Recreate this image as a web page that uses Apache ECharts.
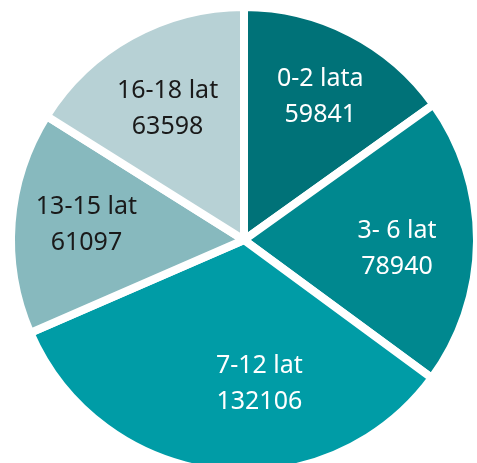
<!DOCTYPE html>
<html>
<head>
<meta charset="utf-8">
<script src="https://cdn.jsdelivr.net/npm/echarts@6/dist/echarts.min.js"></script>
<style>
  html, body { margin: 0; padding: 0; background: #fff; }
  #PieChart { width: 477px; height: 463px; }
</style>
</head>
<body>
<div id="PieChart"></div>
<script>
// 数据
var categories = ['0-2 lata', '3- 6 lat', '7-12 lat', '13-15 lat', '16-18 lat'];
var values = [59841, 78940, 132106, 61097, 63598];

// 样式
var colors = ['#007278', '#00888f', '#009ca6', '#87b9be', '#b7d1d5'];
var labelColors = ['#ffffff', '#ffffff', '#ffffff', '#1a1a1a', '#1a1a1a'];
// 标签微调 (像素)
var labelNudge = [[4, -3], [-5, 8], [33, -13], [0, -3], [0, 7]];

function ShowPieChart() {
    var pieChart = echarts.init(document.getElementById('PieChart'));

    var sliceData = [];
    var labelData = [];
    for (var i = 0, len = categories.length; i < len; i++) {
        sliceData.push({
            name: categories[i],
            value: values[i],
            itemStyle: { color: colors[i] }
        });
        labelData.push({
            name: categories[i],
            value: values[i],
            label: { color: labelColors[i], offset: labelNudge[i] }
        });
    }

    var option = {
        animation: false,
        series: [
            {
                // 扇区
                type: 'pie',
                center: [244, 240],
                radius: [0, 233],
                startAngle: 90,
                clockwise: true,
                silent: true,
                label: { show: false },
                labelLine: { show: false },
                itemStyle: {
                    borderColor: '#ffffff',
                    borderWidth: 8
                },
                data: sliceData
            },
            {
                // 标签 (透明扇区, 只用来放标签)
                type: 'pie',
                center: [244, 240],
                radius: [0, 310],
                startAngle: 90,
                clockwise: true,
                silent: true,
                itemStyle: { color: 'rgba(0,0,0,0)' },
                labelLine: { show: false },
                label: {
                    show: true,
                    position: 'inside',
                    formatter: '{b}\n{c}',
                    fontFamily: 'Noto Sans',
                    fontSize: 25,
                    lineHeight: 36,
                    align: 'center'
                },
                data: labelData
            }
        ]
    };
    pieChart.setOption(option);
}

ShowPieChart();
</script>
</body>
</html>
